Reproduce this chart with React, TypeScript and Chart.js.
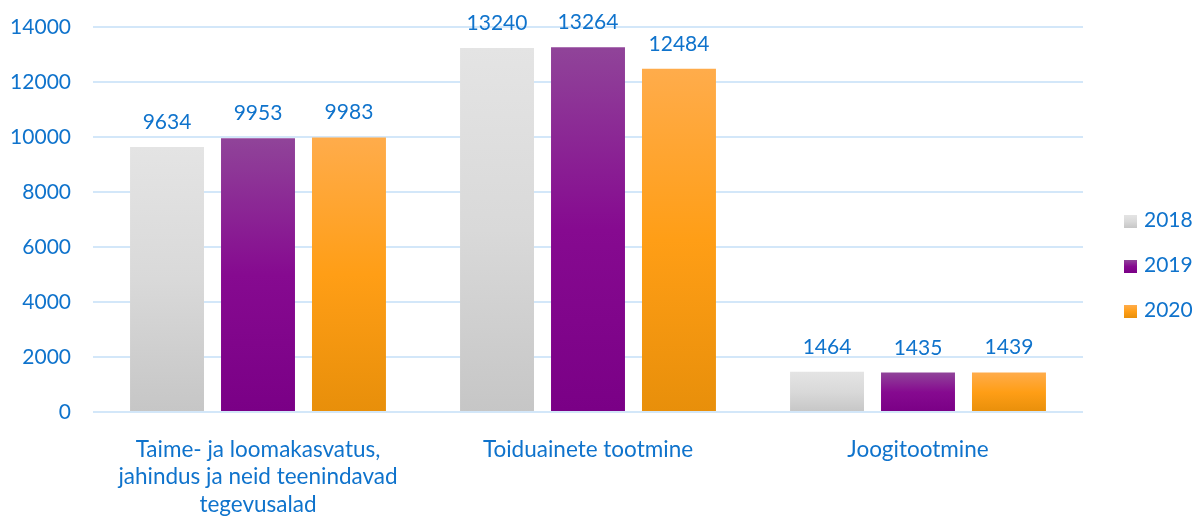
import React, { useEffect, useRef } from "react";
import { Chart, registerables } from "chart.js";

Chart.register(...registerables);

const categories: (string | string[])[] = [
  ["Taime- ja loomakasvatus,", "jahindus ja neid teenindavad", "tegevusalad"],
  "Toiduainete tootmine",
  "Joogitootmine",
];
const seriesNames = ["2018", "2019", "2020"];
const values2018 = [9634, 13240, 1464];
const values2019 = [9953, 13264, 1435];
const values2020 = [9983, 12484, 1439];
const yTicks = [0, 2000, 4000, 6000, 8000, 10000, 12000, 14000];

const BLUE = "#0f73cc";
const FONT = "Lato, 'Open Sans', sans-serif";

const gradients: string[][] = [
  ["#e4e4e4", "#d9d9d9", "#c6c6c6"],
  ["#904499", "#860a90", "#7a0086"],
  ["#ffac4b", "#ff9e16", "#e88f0a"],
];

function makeGradient(c: CanvasRenderingContext2D, top: number, bottom: number, stops: string[]) {
  const g = c.createLinearGradient(0, top, 0, bottom);
  g.addColorStop(0, stops[0]);
  g.addColorStop(0.5, stops[1]);
  g.addColorStop(1, stops[2]);
  return g;
}

const dataLabelPlugin = {
  id: "dataLabels",
  afterDatasetsDraw(chart: any) {
    const c = chart.ctx as CanvasRenderingContext2D;
    c.save();
    c.fillStyle = BLUE;
    c.font = `21px ${FONT}`;
    c.textAlign = "center";
    c.textBaseline = "alphabetic";
    chart.data.datasets.forEach((ds: any, i: number) => {
      const meta = chart.getDatasetMeta(i);
      meta.data.forEach((el: any, j: number) => {
        c.fillText(String(ds.data[j]), el.x, el.y - 18);
      });
    });
    c.restore();
  },
};

const legendPlugin = {
  id: "customLegend",
  afterDraw(chart: any) {
    const c = chart.ctx as CanvasRenderingContext2D;
    c.save();
    c.font = `21px ${FONT}`;
    c.textAlign = "left";
    c.textBaseline = "middle";
    const x = 1124;
    const y0 = 220;
    const pitch = 45;
    chart.data.datasets.forEach((ds: any, i: number) => {
      const cy = y0 + i * pitch;
      c.fillStyle = makeGradient(c, cy - 5, cy + 8, gradients[i]);
      c.fillRect(x, cy - 5, 13, 13);
      c.fillStyle = BLUE;
      c.fillText(ds.label, x + 20, cy);
    });
    c.restore();
  },
};

export default function App() {
  const ref = useRef<HTMLCanvasElement | null>(null);
  useEffect(() => {
    document.body.style.margin = "0";
    const canvas = ref.current!;
    const series = [values2018, values2019, values2020];
    const chart = new Chart(canvas, {
      type: "bar",
      data: {
        labels: categories as any,
        datasets: series.map((vals, i) => ({
          label: seriesNames[i],
          data: vals,
          categoryPercentage: 0.827,
          barPercentage: 0.813,
          borderWidth: 0,
          backgroundColor: (ctx: any) => {
            const ch = ctx.chart;
            if (!ch.chartArea || ctx.type !== "data") return gradients[i][1];
            const ys = ch.scales.y;
            const top = ys.getPixelForValue(ctx.raw);
            const bottom = ys.getPixelForValue(0);
            return makeGradient(ch.ctx, top, bottom, gradients[i]);
          },
        })),
      },
      options: {
        responsive: false,
        animation: false,
        layout: { padding: { top: 27, right: 117, left: 0, bottom: 0 } },
        plugins: {
          legend: { display: false },
          tooltip: { enabled: false },
        },
        scales: {
          x: {
            grid: { display: false },
            border: { display: false },
            ticks: {
              color: BLUE,
              font: { family: FONT, size: 22.5, lineHeight: 1.22 },
              padding: 16,
              maxRotation: 0,
              autoSkip: false,
            },
            afterFit: (s: any) => {
              s.height = 104;
              s.paddingLeft = 0;
              s.paddingRight = 0;
            },
          },
          y: {
            min: 0,
            max: 14000,
            afterBuildTicks: (s: any) => {
              s.ticks = yTicks.map((v) => ({ value: v }));
            },
            grid: { color: "#d3e7f9", lineWidth: 2, drawTicks: false },
            border: { display: false },
            ticks: {
              color: BLUE,
              font: { family: FONT, size: 21 },
              padding: 22,
              callback: (v: any) => String(v),
            },
            afterFit: (s: any) => {
              s.width = 93;
              s.paddingTop = 0;
              s.paddingBottom = 0;
            },
          },
        },
      },
      plugins: [dataLabelPlugin, legendPlugin],
    });
    return () => chart.destroy();
  }, []);
  return (
    <div style={{ width: 1200, height: 516 }}>
      <canvas ref={ref} width={1200} height={516} />
    </div>
  );
}
